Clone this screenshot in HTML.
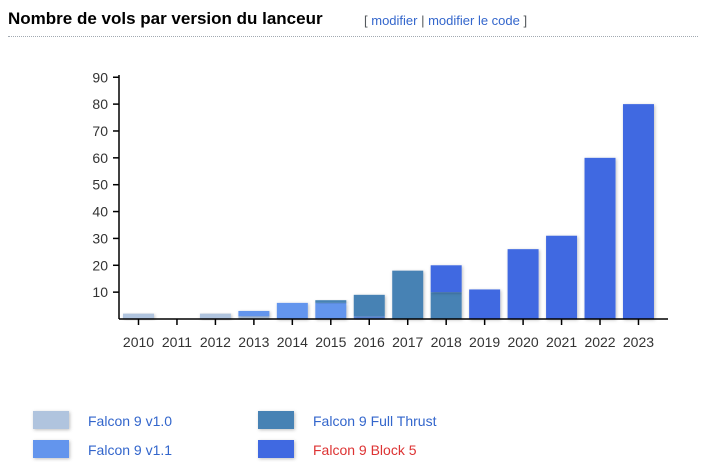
<!DOCTYPE html>
<html><head><meta charset="utf-8"><style>
body{margin:0;width:701px;height:469px;background:#fff;font-family:"Liberation Sans",Arial,sans-serif;overflow:hidden;position:relative}
#title{position:absolute;left:8px;top:9px;font-size:17px;font-weight:bold;color:#000}
#edit{position:absolute;left:364px;top:13px;font-size:13px;color:#54595d}
#edit a{color:#3366cc;text-decoration:none}
#rule{position:absolute;left:8px;top:36px;width:690px;border-top:1px dotted #a2a9b1}
svg{position:absolute;left:0;top:0}
</style></head><body>
<div id="title">Nombre de vols par version du lanceur</div>
<div id="edit">[ <a>modifier</a> | <a>modifier le code</a> ]</div>
<div id="rule"></div>
<svg id="chart" width="701" height="469">
<defs><filter id="sh" x="-20%" y="-20%" width="140%" height="140%"><feDropShadow dx="1" dy="1" stdDeviation="1.5" flood-color="#000" flood-opacity="0.25"/></filter></defs>
</svg>
<script>
const years=["2010","2011","2012","2013","2014","2015","2016","2017","2018","2019","2020","2021","2022","2023"];
const v10=[2,0,2,1,0,0,0,0,0,0,0,0,0,0];
const v11=[0,0,0,2,6,6,1,0,0,0,0,0,0,0];
const ft=[0,0,0,0,0,1,8,18,10,0,0,0,0,0];
const b5=[0,0,0,0,0,0,0,0,10,11,26,31,60,80];
const yTicks=[10,20,30,40,50,60,70,80,90];
const seriesNames=["Falcon 9 v1.0","Falcon 9 v1.1","Falcon 9 Full Thrust","Falcon 9 Block 5"];
const colors=["#b0c4de","#6495ed","#4682b4","#4169e1"];
const svg=document.getElementById('chart');const NS="http://www.w3.org/2000/svg";
function mk(t,a,p){const e=document.createElementNS(NS,t);for(const k in a)e.setAttribute(k,a[k]);(p||svg).appendChild(e);return e;}
const y0=319,ppu=2.686,x0=119,x1=668;
const yS=v=>y0-v*ppu;const step=38.46;const xC=i=>138.5+i*step;
const bw=31;
const series=[v10,v11,ft,b5];
years.forEach((yr,i)=>{let acc=0;series.forEach((s,k)=>{const v=s[i];if(!v)return;
const r=mk('rect',{x:xC(i)-bw/2,y:yS(acc+v),width:bw,height:v*ppu,fill:colors[k],filter:'url(#sh)'});


acc+=v;});});
let ax=mk('line',{x1:x0,y1:75,x2:x0,y2:y0,stroke:'#000','stroke-width':1.5});

ax=mk('line',{x1:x0,y1:y0,x2:x1,y2:y0,stroke:'#000','stroke-width':1.5});

yTicks.forEach(v=>{mk('line',{x1:113,x2:x0,y1:yS(v),y2:yS(v),stroke:'#000','stroke-width':1.5});
const t=mk('text',{x:108,y:yS(v)+5,'text-anchor':'end','font-size':14,fill:'#333'});t.textContent=v;
});
years.forEach((yr,i)=>{mk('line',{x1:xC(i),x2:xC(i),y1:y0,y2:y0+6,stroke:'#000','stroke-width':1.5});
const t=mk('text',{x:xC(i),y:347,'text-anchor':'middle','font-size':14,fill:'#333'});t.textContent=yr;
});
const lp=[[33,411],[33,440],[258,411],[258,440]];
seriesNames.forEach((n,k)=>{const g=mk('g',{});

mk('rect',{x:lp[k][0],y:lp[k][1],width:36,height:18,fill:colors[k],filter:'url(#sh)'},g);
const t=mk('text',{x:lp[k][0]+55,y:lp[k][1]+15,'font-size':14,fill:k==3?'#d33':'#3366cc'},g);t.textContent=n;});
</script>
</body></html>
